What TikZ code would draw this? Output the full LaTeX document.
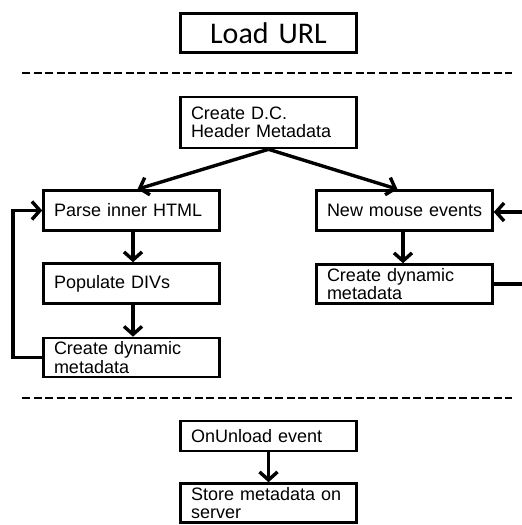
\documentclass[tikz,border=0pt]{standalone}
\usepackage{fontspec}
\setmainfont{Liberation Sans}[WordSpace=0.55]
\newfontfamily\titlefont{Carlito}
\usetikzlibrary{arrows.meta}
\tikzset{
  stepbox/.style={draw, line width=2.6pt, minimum width=176pt, minimum height=40pt,
    text width=155pt, align=left, inner xsep=0pt, inner ysep=0pt,
    font=\fontsize{18}{18.5}\selectfont},
  arr/.style={line width=3.4pt, -{Straight Barb[length=8pt,width=18pt,line width=3.4pt]}},
  link/.style={line width=3.4pt},
  sep/.style={line width=2.8pt, dash pattern=on 8pt off 3.5pt}
}
\begin{document}
\begin{tikzpicture}[x=1pt,y=-1pt]
  \useasboundingbox (0,0) rectangle (522,525);

  % page load
  \node[stepbox, minimum height=39pt, align=center, text width=170pt,
        font=\titlefont\fontsize{30}{31}\selectfont] (load) at (268.5,33) {Load URL};

  \coordinate (s1a) at (22,73);
  \coordinate (s1b) at (512,73);
  \draw[sep] (s1a) -- (s1b);

  % page lifetime
  \node[stepbox, minimum height=51pt] (dc) at (268.5,122.5) {Create D.C.\\Header Metadata};

  \node[stepbox] (parse) at (131.5,210.5) {\mbox{Parse inner HTML}};
  \node[stepbox] (pop)   at (131.5,283.5) {Populate DIVs};
  \node[stepbox, minimum height=39pt] (dynL)  at (131.5,357.5) {Create dynamic\\metadata};

  \node[stepbox] (mouse) at (404.5,210.5) {\mbox{New mouse events}};
  \node[stepbox, minimum height=39pt] (dynR)  at (404.5,284) {Create dynamic\\metadata};

  \draw[arr] (dc.south) -- ([xshift=6pt]parse.north);
  \draw[arr] (dc.south) -- ([xshift=-7pt]mouse.north);

  \draw[arr] ([xshift=1.5pt]parse.south) -- ([xshift=1.5pt]pop.north);
  \draw[arr] ([xshift=1.5pt]pop.south) -- ([xshift=1.5pt]dynL.north);
  \draw[arr] ([xshift=-1.5pt]mouse.south) -- ([xshift=-1.5pt]dynR.north);

  % loop back on the left
  \coordinate (lx) at (13,357.5);
  \draw[arr] (dynL.west) -- (lx) |- (parse.west);

  % loop back on the right
  \coordinate (rx1) at (523,284);
  \coordinate (rx2) at (523,212);
  \draw[link] (dynR.east) -- (rx1);
  \draw[arr] (rx2) -- (mouse.east |- rx2);

  \coordinate (s2a) at (22,398);
  \coordinate (s2b) at (512,398);
  \draw[sep] (s2a) -- (s2b);

  % page unload
  \node[stepbox, minimum height=30pt] (unload) at (268.5,436) {OnUnload event};
  \node[stepbox, minimum height=39pt] (store)  at (268.5,503) {\mbox{Store metadata on}\\server};
  \draw[arr] (unload.south) -- (store.north);
\end{tikzpicture}
\end{document}
